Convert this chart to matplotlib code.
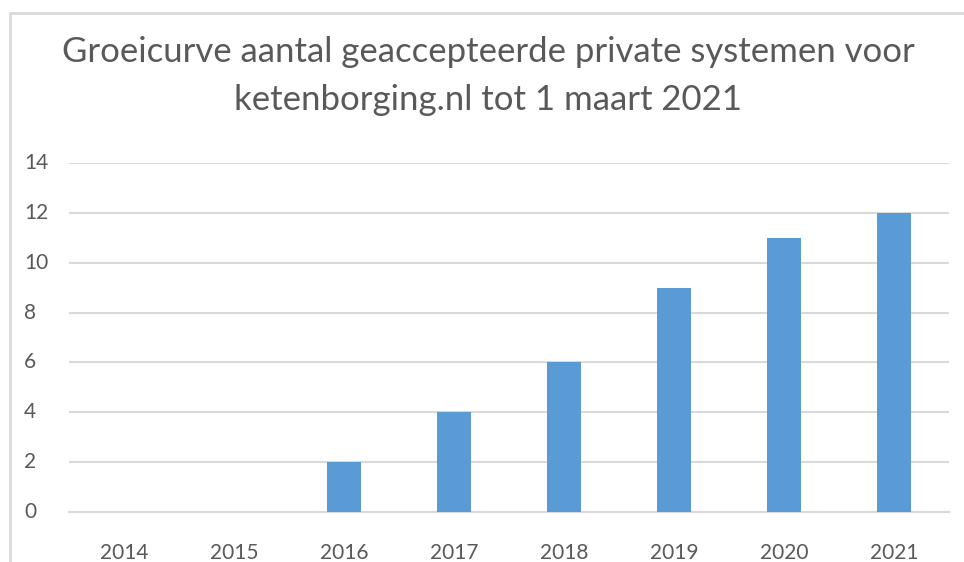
import matplotlib.pyplot as plt
from matplotlib.patches import Rectangle

# Data
years = ['2014', '2015', '2016', '2017', '2018', '2019', '2020', '2021']
systems = [0, 0, 2, 4, 6, 9, 11, 12]
y_ticks = [0, 2, 4, 6, 8, 10, 12, 14]

TITLE = 'Groeicurve aantal geaccepteerde private systemen voor\nketenborging.nl tot 1 maart 2021'
TEXT_COLOR = '#595959'
GRID_COLOR = '#D9D9D9'
BAR_COLOR = '#5B9BD5'

W, H = 964, 562
plt.rcParams['font.family'] = ['Lato', 'DejaVu Sans']

fig = plt.figure(figsize=(W / 100, H / 100), dpi=100)
fig.patch.set_facecolor('white')

# chart frame (cut off at right and bottom like the screenshot)
fig.patches.append(Rectangle((9.5 / W, -0.1), 1.2, 1.1 - 13.5 / H,
                             transform=fig.transFigure, fill=False,
                             edgecolor=GRID_COLOR, linewidth=2))

# plot area in pixels: x 69..949, y 163..512
ax = fig.add_axes([69 / W, 1 - 512 / H, 880 / W, 349 / H])
x = list(range(len(years)))
ax.bar(x, systems, width=0.315, color=BAR_COLOR, zorder=3)

ax.set_xlim(-0.5, len(years) - 0.5)
ax.set_ylim(0, 14)
ax.set_yticks(y_ticks)
ax.set_yticklabels([])
ax.set_xticks(x)
ax.set_xticklabels(years)

ax.grid(axis='y', color=GRID_COLOR, linewidth=1.5, zorder=0)
ax.set_axisbelow(True)
for s in ['top', 'right', 'left']:
    ax.spines[s].set_visible(False)
ax.spines['bottom'].set_color(GRID_COLOR)
ax.spines['bottom'].set_linewidth(1.5)
ax.tick_params(length=0, labelsize=15, colors=TEXT_COLOR)
ax.tick_params(axis='x', pad=22)

# y labels left aligned at a fixed pixel x
for v in y_ticks:
    ax.annotate(str(v), xy=(0, v), xycoords=('figure fraction', 'data'),
                xytext=(24, 0), textcoords='offset pixels',
                fontsize=15, color=TEXT_COLOR, va='center', ha='left')

fig.text(488 / W, 1 - 76 / H, TITLE, ha='center', va='center',
         fontsize=25, color=TEXT_COLOR, linespacing=1.6)

fig.savefig('out.png', dpi=100)
